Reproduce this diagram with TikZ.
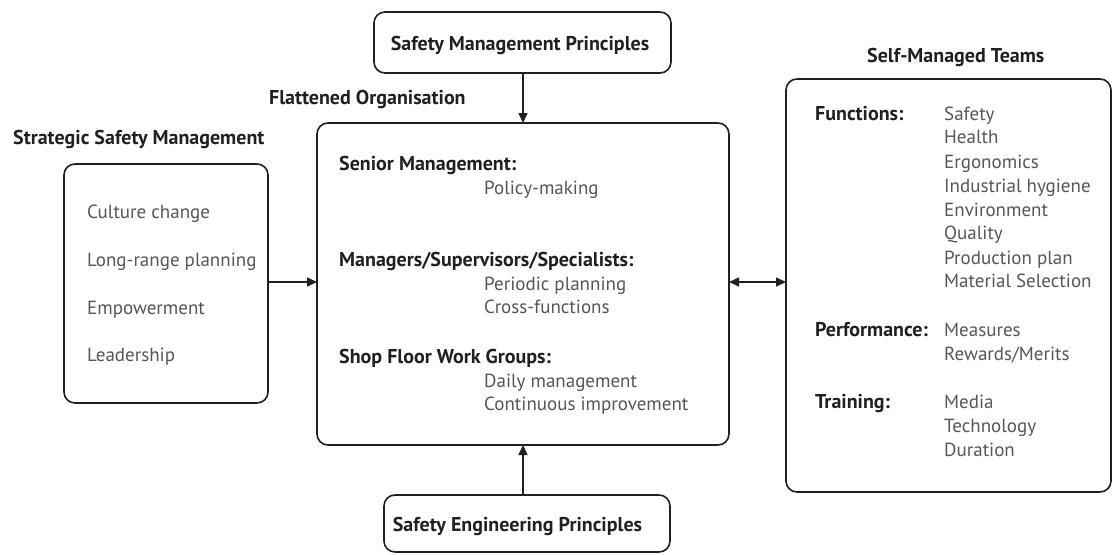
\documentclass[tikz,border=0pt]{standalone}
\usepackage{fontspec}
\setmainfont{PT Sans}
\usetikzlibrary{arrows.meta}
\definecolor{ink}{HTML}{231F20}
\definecolor{txt}{HTML}{55565A}
\begin{document}
\begin{tikzpicture}[x=1pt,y=-1pt,
  box/.style={draw=ink, line width=1.6pt, rounded corners=11pt, inner sep=0pt, outer sep=0pt},
  hd/.style={font=\fontsize{20}{24}\selectfont\bfseries, text=ink, inner sep=0pt, anchor=base west},
  it/.style={font=\fontsize{19}{24}\selectfont, text=txt, inner sep=0pt, anchor=base west},
  arr/.style={draw=ink, line width=1.6pt, -{Triangle[length=10pt,width=9pt]}},
  arrb/.style={draw=ink, line width=1.6pt, {Triangle[length=10pt,width=9pt]}-{Triangle[length=10pt,width=9pt]}}]
\useasboundingbox (0,0) rectangle (1113,554);
% boxes
\node[box, minimum width=297pt, minimum height=61pt] (smp) at (522.5,42.5) {};
\node[box, minimum width=286pt, minimum height=57pt] (sep) at (527,523.5) {};
\node[box, minimum width=204pt, minimum height=239pt] (left) at (166,283.5) {};
\node[box, minimum width=412pt, minimum height=322pt] (main) at (523,284) {};
\node[box, minimum width=325pt, minimum height=413pt] (right) at (948.5,285.5) {};
% box titles
\node[hd, anchor=base] (smpt) at (520,50) {Safety Management Principles};
\node[hd, anchor=base] (sept) at (517.5,531) {Safety Engineering Principles};
\node[hd] (flat) at (269,104) {Flattened Organisation};
\node[hd] (strat) at (13,144) {Strategic Safety Management};
\node[hd] (smt) at (867,62) {Self-Managed Teams};
% left box
\node[it] (l1) at (87,218) {Culture change};
\node[it] (l2) at (87,266) {Long-range planning};
\node[it] (l3) at (87,314) {Empowerment};
\node[it] (l4) at (87,361) {Leadership};
% main box
\node[hd] (m1) at (339,170) {Senior Management:};
\node[it] (m1a) at (484,194) {Policy-making};
\node[hd] (m2) at (339,266) {Managers/Supervisors/Specialists:};
\node[it] (m2a) at (484,290) {Periodic planning};
\node[it] (m2b) at (484,313) {Cross-functions};
\node[hd] (m3) at (339,363) {Shop Floor Work Groups:};
\node[it] (m3a) at (484,387) {Daily management};
\node[it] (m3b) at (484,410) {Continuous improvement};
% right box
\node[hd] (r1) at (815,120) {Functions:};
\node[it] (r1a) at (944,120) {Safety};
\node[it] (r1b) at (944,143) {Health};
\node[it] (r1c) at (944,168) {Ergonomics};
\node[it] (r1d) at (944,192) {Industrial hygiene};
\node[it] (r1e) at (944,216) {Environment};
\node[it] (r1f) at (944,239) {Quality};
\node[it] (r1g) at (944,264) {Production plan};
\node[it] (r1h) at (944,287) {Material Selection};
\node[hd] (r2) at (815,336) {Performance:};
\node[it] (r2a) at (944,336) {Measures};
\node[it] (r2b) at (944,360) {Rewards/Merits};
\node[hd] (r3) at (815,408) {Training:};
\node[it] (r3a) at (944,408) {Media};
\node[it] (r3b) at (944,432) {Technology};
\node[it] (r3c) at (944,456) {Duration};
% connectors
\coordinate (ay) at (0,282);
\draw[arr] (smp.south -| main.north) -- (main.north);
\draw[arr] (sep.north -| main.south) -- (main.south);
\draw[arr] (left.east |- ay) -- (main.west |- ay);
\draw[arrb] (main.east |- ay) -- (right.west |- ay);
\end{tikzpicture}
\end{document}
